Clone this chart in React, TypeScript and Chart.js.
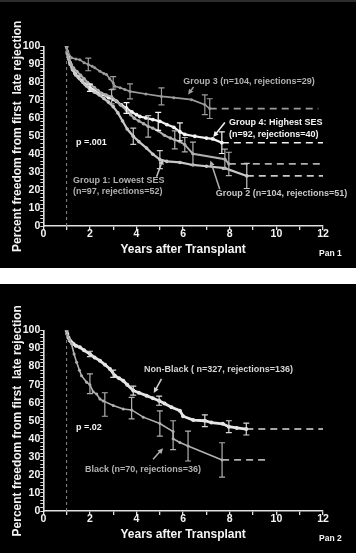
import React, { useEffect, useRef } from 'react';
import { Chart, registerables } from 'chart.js';

Chart.register(...registerables);

const FONT = '"Liberation Sans", Arial, Helvetica, sans-serif';

// ---------- Panel 1 data (SES groups) ----------
const g3X = [1, 1.05, 1.21, 1.4, 1.57, 1.75, 1.93, 2.1, 2.21, 2.43, 2.6, 2.71, 2.85, 3.0, 3.07, 3.3, 3.5, 3.72, 4.4, 5.07, 5.6, 6.36, 6.93, 7.14];
const g3Y = [100, 97, 93.7, 93, 92.6, 91, 90, 89, 88.1, 86.2, 85, 84.4, 82, 79.7, 77.8, 77, 76, 75, 73.5, 72.2, 71.5, 70.4, 67.6, 65.4];
const g3ErrX = [1.93, 3.0, 3.72, 5.07, 6.93, 7.14];
const g3ErrY = [90, 79.7, 75, 72.2, 67.6, 65.4];
const g3ErrH = [3.5, 3.5, 4.2, 4.7, 5.5, 5.5];

const g4X = [1, 1.03, 1.08, 1.15, 1.25, 1.36, 1.5, 1.65, 1.8, 2.0, 2.15, 2.35, 2.57, 2.8, 3.0, 3.15, 3.35, 3.57, 3.8, 4.0, 4.14, 4.4, 4.7, 5.0, 5.3, 5.6, 5.86, 6.07, 6.5, 7.0, 7.27, 7.66];
const g4Y = [100, 97, 94, 91, 88, 85, 83, 81, 79, 77, 76, 74.5, 73.2, 71.5, 70.5, 69.4, 67.5, 65.7, 63.5, 62, 61, 60.2, 59.3, 58.3, 56.5, 55, 52.5, 51, 50, 49, 48.5, 46.4];
const g4ErrX = [2.0, 3.57, 4.93, 5.86, 7.66];
const g4ErrY = [77, 65.7, 58.3, 52.5, 46.4];
const g4ErrH = [2, 3, 5, 5, 6];

const g2X = [1, 1.04, 1.1, 1.2, 1.3, 1.45, 1.6, 1.75, 1.9, 2.05, 2.2, 2.35, 2.5, 2.7, 2.93, 3.1, 3.3, 3.57, 3.75, 3.9, 4.1, 4.3, 4.5, 4.7, 4.93, 5.2, 5.45, 5.64, 5.86, 6.07, 6.42, 7.79, 7.96];
const g2Y = [100, 96, 93, 90, 88, 86, 84, 82, 80, 78.5, 77, 75.5, 74, 73, 72, 70, 67.5, 64.5, 62, 60, 58.5, 57, 55.5, 54.5, 53, 50.5, 49, 48, 47, 45.3, 40.2, 37.2, 34.6];
const g2ErrX = [2.93, 4.5, 5.64, 6.07, 6.42, 7.79, 7.96];
const g2ErrY = [72, 55.5, 48, 45.3, 40.2, 37.2, 34.6];
const g2ErrH = [4, 6, 5, 4, 6.5, 5.6, 6.5];

const g1X = [1, 1.03, 1.08, 1.15, 1.25, 1.4, 1.55, 1.7, 1.85, 2.0, 2.2, 2.4, 2.6, 2.8, 3.0, 3.2, 3.4, 3.6, 3.86, 4.1, 4.43, 4.7, 5.0, 5.3, 5.86, 6.42, 7.0, 7.79, 8.73];
const g1Y = [100, 96, 93, 90, 87, 84, 82, 80, 78, 76, 74.5, 73, 71, 69, 66.5, 63, 58.5, 54, 50, 47, 43.4, 40, 37, 36, 35.4, 34, 33.3, 32.2, 27.9];
const g1ErrX = [3.86, 5.0, 8.73];
const g1ErrY = [50, 37, 27.9];
const g1ErrH = [4.5, 5, 7];

// ---------- Panel 2 data (race) ----------
const nbX = [1, 1.03, 1.08, 1.14, 1.21, 1.3, 1.4, 1.57, 1.75, 2.0, 2.2, 2.43, 2.65, 2.86, 3.07, 3.25, 3.43, 3.6, 3.86, 4.1, 4.43, 4.7, 4.97, 5.2, 5.5, 5.86, 6.0, 6.43, 6.93, 7.21, 7.7, 7.96, 8.3, 8.71];
const nbY = [100, 98, 96, 94.5, 93.5, 92.5, 91.5, 90.7, 89, 87, 85, 83.3, 81, 78.7, 75, 73.5, 72.2, 70, 66.7, 65.5, 63.9, 62.5, 61.1, 59.5, 57.5, 55.6, 52.5, 50.4, 50, 49, 48.3, 46.7, 46, 45.4];
const nbErrX = [2.0, 3.0, 3.86, 4.97, 6.93, 7.96, 8.71];
const nbErrY = [87, 76, 66.7, 61.1, 50, 46.7, 45.4];
const nbErrH = [1.5, 2, 2.5, 2.5, 3.2, 3.3, 3.3];

const bX = [1, 1.05, 1.12, 1.21, 1.32, 1.43, 1.55, 1.64, 1.86, 2.0, 2.14, 2.29, 2.43, 2.57, 3.0, 3.43, 3.79, 4.29, 5.0, 5.57, 5.57, 5.86, 6.21, 7.67];
const bY = [100, 97, 95, 92.6, 87, 82.4, 78, 75, 71.3, 70, 66, 64.8, 62, 61, 58.5, 56.5, 56, 52, 48.5, 44, 40, 38, 36, 28.3];
const bErrX = [2.0, 2.64, 3.79, 5.0, 5.57, 6.21, 7.67];
const bErrY = [70.5, 59, 57, 48.5, 42, 36, 28.3];
const bErrH = [5.5, 6.5, 6, 7, 8, 8.3, 9.5];

// ---------- axes ----------
const X_MIN = 0;
const X_MAX = 12;
const Y_MIN = 0;
const Y_MAX = 100;
const TRANSPLANT_YEAR = 1;
const xTitle = 'Years after Transplant';
const yTitle = 'Percent freedom from first  late rejection';

type ErrSpec = { xs: number[]; ys: number[]; hs: number[]; color: string; width: number };
type ArrowSpec = { from: [number, number]; to: [number, number]; color: string };
type TextSpec = { x: number; y: number; text: string; color: string };

const WHITE = '#f4f4f4';
const GRAY3 = '#9c9c9c';
const GRAY2 = '#b0b0b0';
const GRAY1 = '#c8c8c8';

function pts(xs: number[], ys: number[]) {
  return xs.map((x, i) => ({ x, y: ys[i] }));
}

function lineDs(xs: number[], ys: number[], color: string, width: number, radius: number) {
  return {
    data: pts(xs, ys),
    borderColor: color,
    backgroundColor: color,
    pointBackgroundColor: color,
    borderWidth: width,
    pointRadius: radius,
    pointBorderWidth: 0,
    tension: 0,
    fill: false,
  };
}

function dashDs(x0: number, x1: number, yv: number, color: string) {
  return {
    data: [{ x: x0, y: yv }, { x: x1, y: yv }],
    borderColor: color,
    borderWidth: 1.6,
    borderDash: [7, 5],
    pointRadius: 0,
    fill: false,
  };
}

function vline(color: string) {
  return {
    data: [{ x: TRANSPLANT_YEAR, y: Y_MIN }, { x: TRANSPLANT_YEAR, y: Y_MAX }],
    borderColor: color,
    borderWidth: 1,
    borderDash: [3, 3],
    pointRadius: 0,
    fill: false,
  };
}

function makeOverlay(errs: ErrSpec[], arrows: ArrowSpec[], texts: TextSpec[], pan: string) {
  return {
    id: 'overlay',
    afterDatasetsDraw(chart: any) {
      const { ctx } = chart;
      const xs = chart.scales.x;
      const ys = chart.scales.y;
      ctx.save();
      for (const e of errs) {
        ctx.strokeStyle = e.color;
        ctx.lineWidth = e.width;
        e.xs.forEach((xv, i) => {
          const px = xs.getPixelForValue(xv);
          const top = ys.getPixelForValue(e.ys[i] + e.hs[i]);
          const bot = ys.getPixelForValue(e.ys[i] - e.hs[i]);
          ctx.beginPath();
          ctx.moveTo(px, top);
          ctx.lineTo(px, bot);
          ctx.moveTo(px - 3, top);
          ctx.lineTo(px + 3, top);
          ctx.moveTo(px - 3, bot);
          ctx.lineTo(px + 3, bot);
          ctx.stroke();
        });
      }
      for (const a of arrows) {
        const x0 = xs.getPixelForValue(a.from[0]);
        const y0 = ys.getPixelForValue(a.from[1]);
        const x1 = xs.getPixelForValue(a.to[0]);
        const y1 = ys.getPixelForValue(a.to[1]);
        const ang = Math.atan2(y1 - y0, x1 - x0);
        const L = 6;
        ctx.strokeStyle = a.color;
        ctx.fillStyle = a.color;
        ctx.lineWidth = 1.5;
        ctx.beginPath();
        ctx.moveTo(x0, y0);
        ctx.lineTo(x1 - Math.cos(ang) * L * 0.6, y1 - Math.sin(ang) * L * 0.6);
        ctx.stroke();
        ctx.beginPath();
        ctx.moveTo(x1, y1);
        ctx.lineTo(x1 - L * Math.cos(ang - 0.45), y1 - L * Math.sin(ang - 0.45));
        ctx.lineTo(x1 - L * Math.cos(ang + 0.45), y1 - L * Math.sin(ang + 0.45));
        ctx.closePath();
        ctx.fill();
      }
      ctx.textBaseline = 'middle';
      ctx.textAlign = 'left';
      ctx.font = `bold 9px ${FONT}`;
      for (const t of texts) {
        ctx.fillStyle = t.color;
        ctx.fillText(t.text, xs.getPixelForValue(t.x), ys.getPixelForValue(t.y));
      }
      ctx.font = `bold 8.5px ${FONT}`;
      ctx.fillStyle = WHITE;
      ctx.fillText(pan, chart.width - 37, chart.height - 14);
      ctx.restore();
    },
  };
}

function baseOptions() {
  const tickFont = { family: FONT, size: 10.5, weight: 'bold' as const };
  const titleFont = { family: FONT, size: 12, weight: 'bold' as const };
  return {
    responsive: true,
    maintainAspectRatio: false,
    animation: false as const,
    layout: { padding: { left: 0, right: 33, top: 46.5, bottom: 0 } },
    plugins: { legend: { display: false }, tooltip: { enabled: false } },
    scales: {
      x: {
        type: 'linear' as const,
        min: X_MIN,
        max: X_MAX,
        afterFit: (s: any) => { s.height = 42; },
        border: { color: '#e0e0e0', width: 1.6 },
        grid: { drawOnChartArea: false, drawTicks: true, tickLength: 4, color: '#e0e0e0', lineWidth: 1.3 },
        ticks: {
          stepSize: 1,
          autoSkip: false,
          maxRotation: 0,
          padding: -2,
          color: WHITE,
          font: tickFont,
          callback: (v: any) => (Number(v) % 2 === 0 ? String(v) : ''),
        },
        title: { display: true, text: xTitle, color: WHITE, font: titleFont, padding: { top: 0, bottom: 10.8 } },
      },
      y: {
        type: 'linear' as const,
        min: Y_MIN,
        max: Y_MAX,
        afterFit: (s: any) => { s.width = 43.3; },
        border: { color: '#e0e0e0', width: 1.6 },
        grid: { drawOnChartArea: false, drawTicks: true, tickLength: 3, color: '#e0e0e0', lineWidth: 1 },
        ticks: {
          stepSize: 2,
          autoSkip: false,
          padding: 0,
          color: WHITE,
          font: tickFont,
          callback: (v: any) => (Number(v) % 10 === 0 ? String(v) : ''),
        },
        title: { display: true, text: yTitle, color: WHITE, font: titleFont, padding: { top: 10.3, bottom: 0 } },
      },
    },
  };
}

function panel1Config() {
  const datasets = [
    vline('#8a8a8a'),
    dashDs(g3X[g3X.length - 1], 11.8, g3Y[g3Y.length - 1], GRAY3),
    dashDs(g4X[g4X.length - 1], X_MAX, g4Y[g4Y.length - 1], WHITE),
    dashDs(g2X[g2X.length - 1], X_MAX, g2Y[g2Y.length - 1], GRAY2),
    dashDs(g1X[g1X.length - 1], X_MAX, g1Y[g1Y.length - 1], GRAY1),
    lineDs(g3X, g3Y, GRAY3, 1.6, 1.5),
    lineDs(g2X, g2Y, GRAY2, 2, 1.7),
    lineDs(g1X, g1Y, GRAY1, 2.2, 1.8),
    lineDs(g4X, g4Y, WHITE, 2.2, 1.9),
  ];
  const errs: ErrSpec[] = [
    { xs: g3ErrX, ys: g3ErrY, hs: g3ErrH, color: GRAY3, width: 1.2 },
    { xs: g4ErrX, ys: g4ErrY, hs: g4ErrH, color: WHITE, width: 1.2 },
    { xs: g2ErrX, ys: g2ErrY, hs: g2ErrH, color: GRAY2, width: 1.2 },
    { xs: g1ErrX, ys: g1ErrY, hs: g1ErrH, color: GRAY1, width: 1.2 },
  ];
  const arrows: ArrowSpec[] = [
    { from: [6.45, 77.5], to: [6.21, 73.2], color: GRAY3 },
    { from: [7.79, 57.7], to: [7.29, 49.6], color: WHITE },
    { from: [7.57, 20.5], to: [7.17, 36.5], color: GRAY2 },
    { from: [4.86, 27.5], to: [5.14, 37.3], color: GRAY1 },
  ];
  const texts: TextSpec[] = [
    { x: 6.0, y: 80.4, text: 'Group 3 (n=104, rejections=29)', color: GRAY2 },
    { x: 7.97, y: 57.5, text: 'Group 4: Highest SES', color: WHITE },
    { x: 7.97, y: 50.8, text: '(n=92, rejections=40)', color: WHITE },
    { x: 1.4, y: 46.4, text: 'p =.001', color: WHITE },
    { x: 1.27, y: 25.1, text: 'Group 1: Lowest SES', color: GRAY2 },
    { x: 1.27, y: 19.0, text: '(n=97, rejections=52)', color: GRAY2 },
    { x: 7.4, y: 17.9, text: 'Group 2 (n=104, rejections=51)', color: GRAY1 },
  ];
  return { datasets, plugin: makeOverlay(errs, arrows, texts, 'Pan 1') };
}

function panel2Config() {
  const datasets = [
    vline('#8a8a8a'),
    dashDs(nbX[nbX.length - 1], X_MAX, nbY[nbY.length - 1], '#dcdcdc'),
    dashDs(bX[bX.length - 1], 9.57, bY[bY.length - 1], GRAY2),
    lineDs(bX, bY, GRAY2, 1.6, 1.5),
    lineDs(nbX, nbY, '#e6e6e6', 2.8, 2),
  ];
  const errs: ErrSpec[] = [
    { xs: nbErrX, ys: nbErrY, hs: nbErrH, color: '#d8d8d8', width: 1.2 },
    { xs: bErrX, ys: bErrY, hs: bErrH, color: GRAY2, width: 1.2 },
  ];
  const arrows: ArrowSpec[] = [
    { from: [5.07, 73.2], to: [4.74, 65.4], color: '#d0d0d0' },
    { from: [4.71, 28.7], to: [5.14, 34.8], color: GRAY2 },
  ];
  const texts: TextSpec[] = [
    { x: 4.32, y: 78.3, text: 'Non-Black ( n=327, rejections=136)', color: '#d6d6d6' },
    { x: 1.4, y: 46.1, text: 'p =.02', color: WHITE },
    { x: 1.79, y: 22.8, text: 'Black (n=70, rejections=36)', color: GRAY2 },
  ];
  return { datasets, plugin: makeOverlay(errs, arrows, texts, 'Pan 2') };
}

function Panel({ which, top, height }: { which: 1 | 2; top: number; height: number }) {
  const ref = useRef<HTMLCanvasElement | null>(null);
  useEffect(() => {
    if (!ref.current) return;
    const cfg = which === 1 ? panel1Config() : panel2Config();
    const chart = new Chart(ref.current, {
      type: 'line',
      data: { datasets: cfg.datasets as any },
      options: baseOptions() as any,
      plugins: [cfg.plugin as any],
    });
    return () => chart.destroy();
  }, [which]);
  return (
    <div style={{ position: 'absolute', left: 0, top, width: 356, height, background: '#000' }}>
      <canvas ref={ref} />
    </div>
  );
}

export default function App() {
  return (
    <div style={{ position: 'fixed', left: 0, top: 0, width: 360, height: 553, background: '#fff', overflow: 'hidden' }}>
      <Panel which={1} top={0} height={268} />
      <div style={{ position: 'absolute', left: 0, top: 0, width: 356, height: 2, background: '#2c2c2c' }} />
      <Panel which={2} top={284} height={269} />
    </div>
  );
}
